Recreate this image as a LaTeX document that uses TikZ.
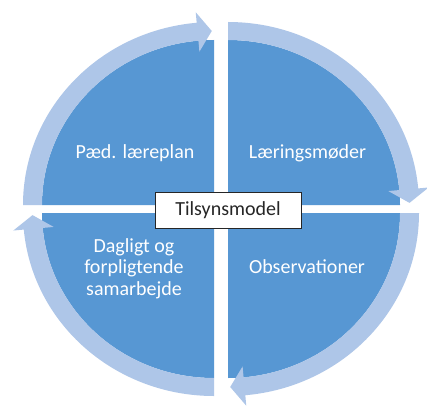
\documentclass[tikz,border=0pt]{standalone}
\usepackage{fontspec}
\setmainfont{Carlito}
\usetikzlibrary{calc}
\definecolor{piecol}{HTML}{5797D3}
\definecolor{bandcol}{HTML}{AEC6E8}
\definecolor{txtdark}{HTML}{262626}
\tikzset{
  pie/.style={fill=piecol},
  band/.style={fill=bandcol},
  lbl/.style={text=white, font=\fontsize{20}{21.5}\selectfont, inner sep=0pt, anchor=base, align=center},
  centerbox/.style={draw=black!85, line width=0.8pt, fill=white, text=txtdark,
    font=\fontsize{20}{24}\selectfont, minimum width=146pt, minimum height=36pt, inner sep=0pt}
}
\newcommand\drawquad[2]{%
  \fill[pie] (#1) -- ($(#1)+({#2}:172pt and 165pt)$)
    arc[start angle=#2, delta angle=-90, x radius=172pt, y radius=165pt] -- cycle;
  \fill[band] ($(#1)+({#2}:191pt and 183pt)$)
    arc[start angle=#2, delta angle=-84.8, x radius=191pt, y radius=183pt]
    -- ($(#1)+({#2-84.8}:201.5pt and 193.5pt)$)
    -- ($(#1)+({#2-89.3}:181.5pt and 174pt)$)
    -- ($(#1)+({#2-84.8}:161pt and 154pt)$)
    -- ($(#1)+({#2-84.8}:172pt and 165pt)$)
    arc[start angle=#2-84.8, delta angle=84.8, x radius=172pt, y radius=165pt]
    -- cycle;
}
\begin{document}
\begin{tikzpicture}[x=1pt,y=1pt]
\useasboundingbox (0,0) rectangle (427,410);
\fill[white] (0,0) rectangle (427,410);
\coordinate (tl) at (214,205);
\coordinate (tr) at (228,205);
\coordinate (br) at (228,197);
\coordinate (bl) at (214,197);
\drawquad{tl}{180}
\drawquad{tr}{90}
\drawquad{br}{0}
\drawquad{bl}{270}
\node[lbl] (ped) at (135,252) {Pæd. læreplan};
\node[lbl] (lm) at (307.5,252) {Læringsmøder};
\node[lbl] (obs) at (307,137) {Observationer};
\node[lbl] (dag) at (134,115) {Dagligt og\\forpligtende\\samarbejde};
\node[centerbox] (tm) at (228,200) {Tilsynsmodel};
\end{tikzpicture}
\end{document}
